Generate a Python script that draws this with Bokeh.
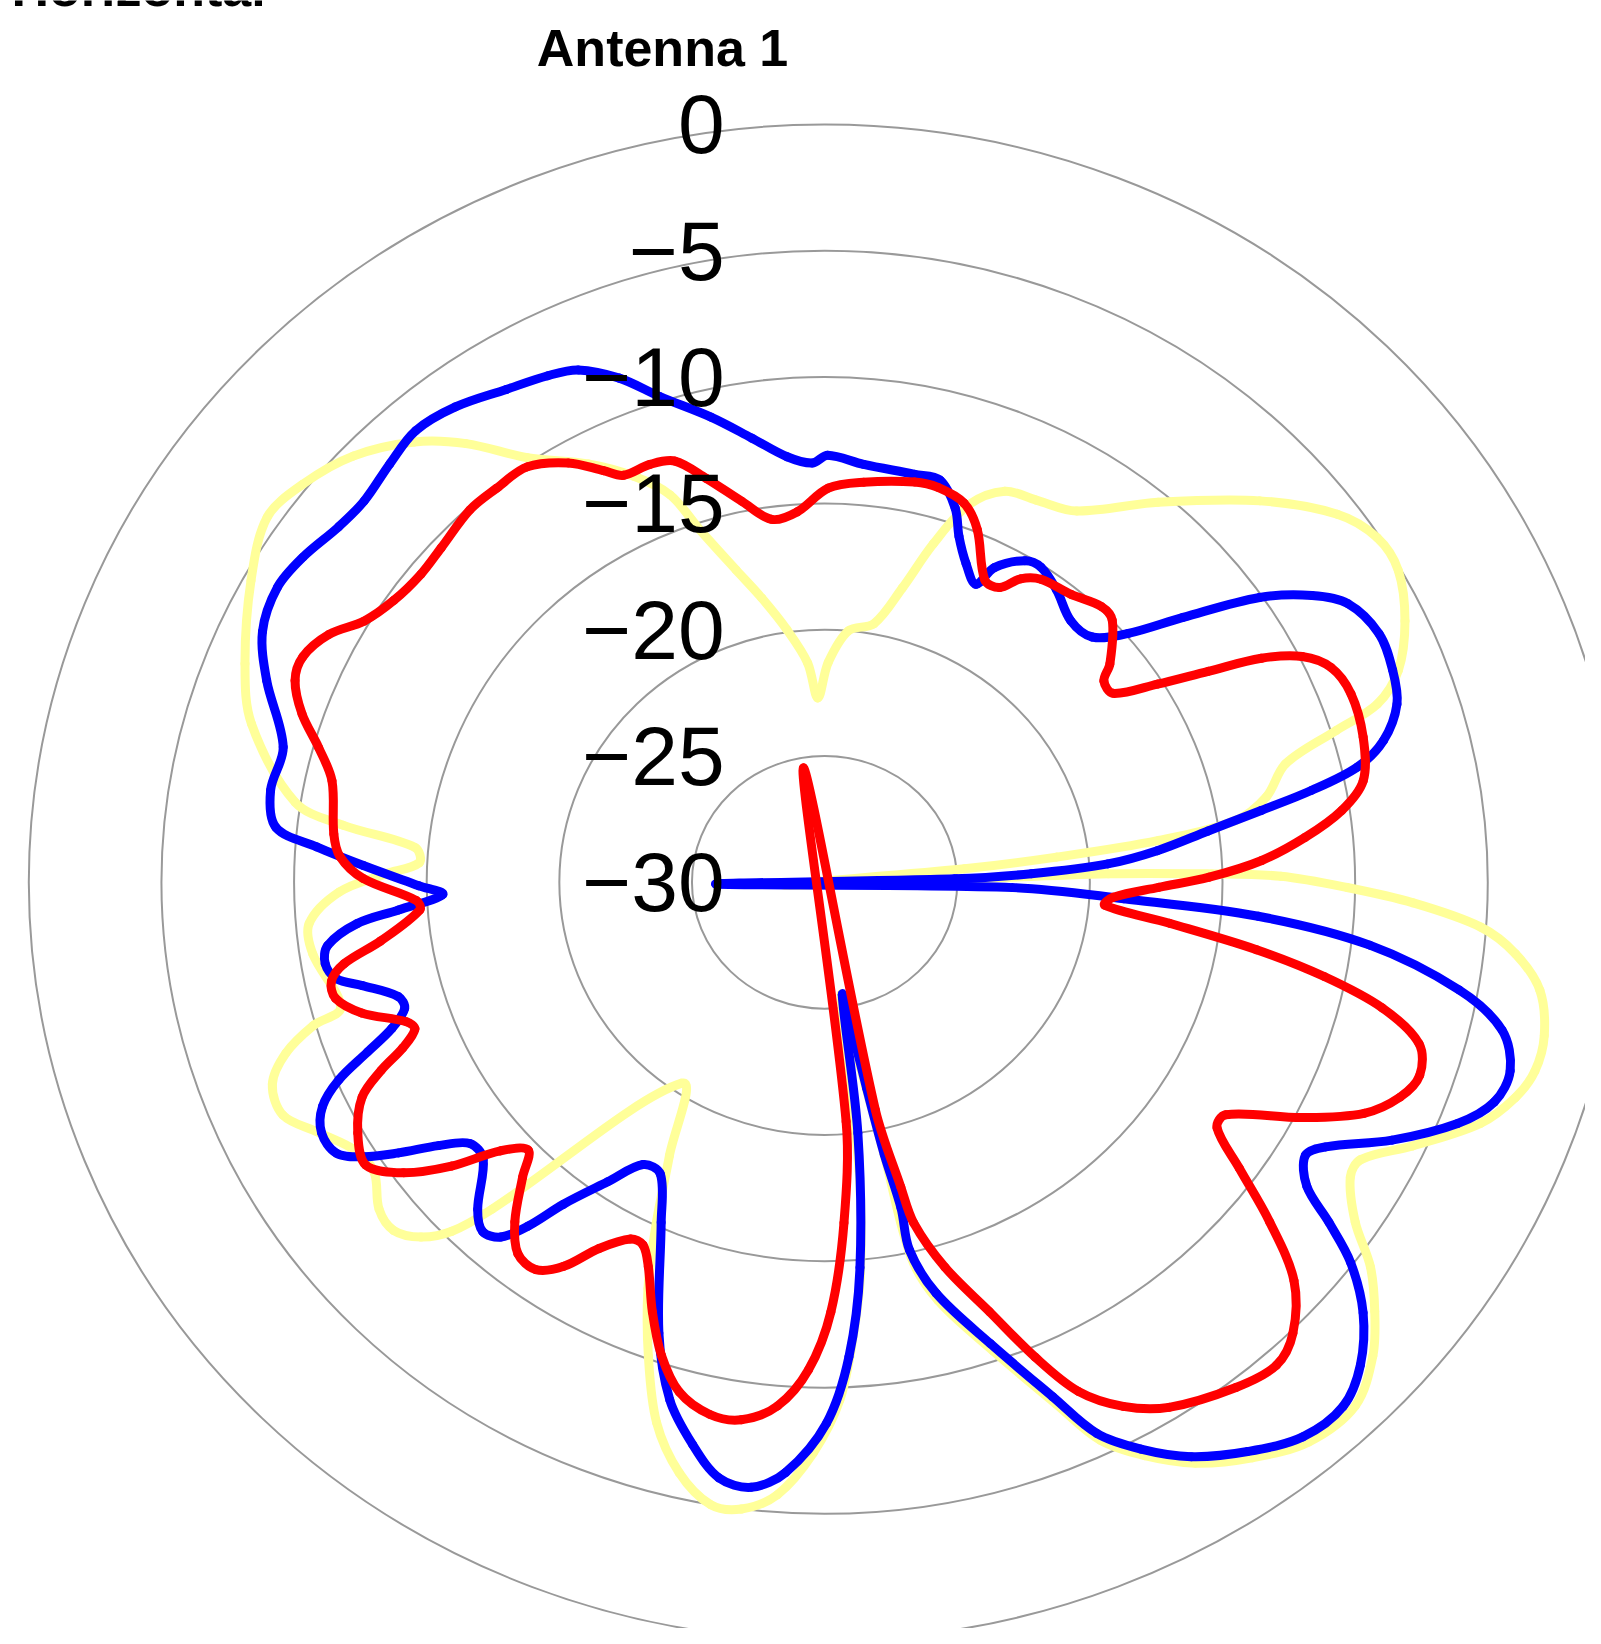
import math
from bokeh.plotting import figure
from bokeh.models import Range1d, Label
from bokeh.core.properties import value
from bokeh.embed import file_html
from bokeh.resources import INLINE

# ---------------- data ----------------
ring_levels = [0, -5, -10, -15, -20, -25]
tick_values = [0, -5, -10, -15, -20, -25, -30]
tick_labels = ["0", "\u22125", "\u221210", "\u221215", "\u221220", "\u221225", "\u221230"]
r_min, r_max = -30.0, 0.0

blue_angles = [0.4, 5.1, 11.9, 15.3, 18.4, 20.3, 22.9, 25.8, 27.2, 30.7, 33.2, 37.1, 41.9, 46.1,
               49.3, 52.2, 55.5, 58.3, 60.8, 64.8, 68.6, 71.9, 75.1, 77.2, 78.8, 80.2, 82.0, 84.3,
               86.1, 87.5, 88.4, 89.0, 91.7, 93.3, 94.7, 96.9, 100.1, 102.9, 106.1, 109.0, 111.8,
               115.5, 119.0, 120.8, 123.5, 125.3, 127.2, 130.0, 133.4, 136.7, 140.6, 144.7, 148.7,
               152.0, 154.8, 157.1, 161.1, 165.5, 167.6, 167.4, 168.2, 169.0, 169.9, 171.5, 172.8,
               175.0, 177.2, 179.8, 183.6, 186.6, 189.6, 192.6, 195.9, 199.3, 204.6, 208.2, 211.5,
               214.6, 217.7, 219.4, 221.0, 223.0, 225.3, 229.6, 232.3, 234.4, 236.3, 238.0, 239.8,
               242.4, 244.9, 246.9, 248.7, 250.5, 252.5, 254.3, 256.8, 258.3, 260.3, 262.4, 264.7,
               266.1, 268.1, 269.5, 272.2, 274.2, 276.0, 279.9, 284.7, 290.8, 295.1, 299.5, 303.2,
               307.5, 311.0, 315.3, 319.2, 323.5, 328.4, 332.5, 335.4, 338.8, 342.1, 346.9, 351.1,
               355.2, 358.4, 360.4]
blue_values = [-13.1, -13.4, -13.5, -13.5, -14.4, -15.4, -16.3, -16.9, -16.0, -15.2, -15.1, -15.5,
               -16.1, -16.0, -14.9, -12.9, -10.1, -8.4, -7.4, -6.9, -7.0, -7.3, -8.2, -9.4, -11.3,
               -13.3, -15.4, -17.4, -19.3, -22.2, -25.1, -34.1, -22.9, -18.7, -13.6, -9.3, -5.7,
               -3.8, -3.1, -3.3, -4.3, -6.3, -8.4, -8.9, -8.2, -6.7, -5.1, -3.5, -2.2, -1.5, -1.6,
               -2.4, -3.4, -4.6, -5.9, -7.9, -10.7, -13.2, -15.1, -16.8, -19.0, -21.7, -23.9, -25.5,
               -20.0, -14.7, -11.2, -8.6, -6.6, -5.9, -6.1, -7.2, -8.7, -11.1, -15.2, -16.9, -16.9,
               -15.6, -13.9, -12.4, -11.4, -11.1, -11.6, -13.1, -13.1, -12.1, -10.7, -9.5, -8.7,
               -8.6, -9.1, -10.1, -11.5, -12.7, -13.4, -13.3, -12.1, -11.2, -10.9, -11.1, -12.3,
               -13.9, -15.6, -14.7, -12.6, -10.8, -9.2, -8.8, -8.9, -7.5, -6.6, -6.3, -6.5, -6.9,
               -7.0, -6.7, -6.4, -6.6, -7.1, -7.4, -7.7, -8.6, -9.8, -11.1, -12.2, -13.1, -13.4,
               -13.1]

red_angles = [0.5, 5.3, 12.1, 15.3, 19.3, 22.4, 26.8, 29.5, 31.6, 34.2, 39.2, 43.7, 46.3, 51.2,
              52.9, 55.5, 58.0, 60.0, 61.7, 63.6, 66.0, 69.4, 74.2, 78.8, 81.7, 84.4, 87.0, 89.2,
              90.9, 93.1, 94.9, 97.1, 99.3, 101.2, 103.3, 105.9, 108.8, 111.4, 114.2, 117.3, 121.3,
              123.3, 125.9, 128.7, 131.7, 135.3, 138.3, 142.2, 148.0, 151.5, 154.6, 157.1, 159.9,
              163.4, 166.0, 166.6, 168.0, 170.0, 175.1, 176.9, 179.2, 181.8, 184.9, 188.4, 191.6,
              195.2, 198.2, 200.9, 203.6, 205.5, 207.4, 210.4, 212.9, 215.4, 218.2, 221.0, 224.3,
              226.5, 229.0, 231.4, 234.1, 237.1, 240.6, 244.0, 246.0, 247.6, 249.4, 250.7, 253.5,
              256.0, 258.1, 259.9, 262.1, 265.9, 267.3, 270.5, 273.2, 275.9, 282.2, 285.6, 288.7,
              291.8, 294.4, 297.7, 300.8, 304.5, 308.7, 312.5, 317.8, 321.6, 325.7, 329.8, 332.9,
              334.8, 338.3, 341.3, 344.4, 348.3, 352.1, 356.0, 360.5]
red_values = [-14.4, -14.1, -13.8, -13.8, -14.1, -14.9, -16.6, -16.6, -15.9, -15.5, -15.3, -14.9,
              -15.0, -16.2, -16.8, -16.8, -15.2, -13.3, -11.3, -9.9, -9.1, -8.8, -8.9, -9.3, -10.3,
              -11.8, -13.5, -15.5, -17.4, -19.1, -19.4, -16.9, -13.5, -10.8, -8.4, -6.7, -6.3,
              -6.7, -7.7, -9.7, -12.3, -12.3, -10.7, -8.5, -6.3, -4.9, -4.4, -4.7, -5.5, -6.4,
              -7.7, -9.6, -11.9, -14.1, -16.1, -17.6, -20.8, -34.6, -20.5, -16.5, -13.0, -10.7,
              -9.2, -8.5, -8.5, -9.1, -10.3, -11.8, -13.4, -14.1, -14.1, -13.2, -11.9, -11.2,
              -11.3, -12.2, -13.7, -14.6, -13.8, -12.0, -10.4, -9.4, -9.8, -10.6, -11.7, -12.8,
              -13.5, -13.3, -11.8, -11.0, -11.0, -11.6, -13.1, -14.7, -14.6, -12.6, -11.7, -11.4,
              -11.0, -10.2, -9.2, -8.5, -8.4, -8.9, -9.8, -10.3, -10.5, -10.4, -10.1, -10.1,
              -10.1, -10.8, -11.7, -12.2, -12.2, -12.4, -13.4, -14.6, -15.5, -15.3, -14.4]

yellow_angles = [0.9, 5.2, 10.3, 14.1, 17.0, 20.0, 23.7, 27.8, 32.9, 39.9, 47.4, 53.0, 56.8, 60.3,
                 64.7, 68.8, 71.3, 72.7, 74.9, 78.5, 81.0, 82.5, 83.5, 84.2, 85.5, 88.2, 88.7, 89.2,
                 90.6, 92.1, 94.1, 96.2, 99.0, 102.6, 105.6, 108.1, 111.1, 115.2, 118.5, 120.5,
                 123.9, 126.5, 129.3, 132.2, 136.0, 140.5, 144.7, 148.7, 152.0, 154.8, 157.1, 161.1,
                 165.5, 167.6, 168.2, 169.5, 172.0, 173.5, 175.0, 176.5, 178.4, 181.1, 184.2, 187.2,
                 189.9, 193.2, 196.5, 199.5, 202.5, 205.2, 208.4, 214.1, 224.1, 225.5, 227.3, 229.7,
                 232.4, 235.9, 238.9, 242.6, 245.7, 249.0, 251.6, 253.6, 254.8, 261.6, 265.2, 268.8,
                 271.1, 272.9, 275.1, 277.1, 279.0, 286.2, 291.6, 298.9, 304.5, 308.7, 313.5, 318.4,
                 322.1, 326.3, 331.7, 335.9, 339.2, 341.4, 344.9, 348.1, 351.9, 355.8, 358.0, 360.9]
yellow_values = [-21.3, -20.0, -19.6, -18.0, -16.0, -14.1, -13.1, -12.9, -12.5, -10.4, -7.7, -5.8,
                 -5.1, -5.1, -5.8, -6.8, -8.0, -9.8, -12.0, -13.0, -14.3, -17.3, -21.2, -24.7,
                 -31.5, -19.3, -15.4, -12.8, -10.3, -7.8, -5.2, -3.8, -2.7, -2.2, -2.2, -2.6, -3.5,
                 -5.5, -7.0, -7.0, -5.9, -4.4, -3.2, -2.1, -1.2, -1.3, -2.1, -3.1, -4.3, -5.6, -7.6,
                 -10.4, -12.9, -14.8, -18.8, -22.5, -25.5, -18.5, -14.5, -12.1, -9.5, -7.4, -5.7,
                 -5.0, -5.0, -6.0, -7.7, -10.1, -12.6, -15.1, -17.7, -20.4, -12.0, -10.3, -9.3,
                 -8.7, -8.8, -9.5, -9.4, -8.5, -7.6, -7.7, -8.6, -9.9, -11.1, -10.5, -10.5, -11.7,
                 -13.4, -14.7, -14.5, -11.7, -9.8, -7.5, -6.5, -5.3, -4.5, -4.8, -5.5, -6.7, -8.0,
                 -9.8, -11.2, -12.4, -13.6, -15.3, -17.2, -18.5, -19.9, -21.3, -22.7, -21.3]

series = [
    ("yellow", yellow_angles, yellow_values, "#FFFF99"),
    ("blue", blue_angles, blue_values, "#0000FF"),
    ("red", red_angles, red_values, "#FF0000"),
]

# ---------------- layout ----------------
W, H = 1585, 1628
cx, cy = 824.1, 881.8      # pole position on the canvas (px from left / top)
kx, ky = 795.8, 758.1      # px per unit radius (0 dB ring) horizontally / vertically


def radius(v):
    return (v - r_min) / (r_max - r_min)


p = figure(width=W, height=H, output_backend="svg", toolbar_location=None,
           x_range=Range1d(-cx / kx, (W - cx) / kx),
           y_range=Range1d(-(H - cy) / ky, cy / ky),
           x_axis_location=None, y_axis_location=None, min_border=0)
p.grid.visible = False
p.outline_line_color = None
p.background_fill_color = "white"
p.border_fill_color = "white"

# grid rings
rr = [radius(l) for l in ring_levels]
p.ellipse(x=[0] * len(rr), y=[0] * len(rr), width=[2 * r for r in rr], height=[2 * r for r in rr],
          fill_color=None, line_color="#999999", line_width=2)


def smooth_segments(xs, ys):
    """Closed chord-scaled Catmull-Rom curve through the points -> cubic Bezier segments."""
    pts = list(zip(xs, ys))[:-1]          # last point repeats the first
    n = len(pts)
    P = [(x * kx, y * ky) for x, y in pts]
    d = [math.hypot(P[(i + 1) % n][0] - P[i][0], P[(i + 1) % n][1] - P[i][1]) for i in range(n)]
    m = []
    for i in range(n):
        a, b = P[i - 1], P[(i + 1) % n]
        s = d[i - 1] + d[i]
        if s == 0:
            m.append((0.0, 0.0))
        else:
            m.append(((b[0] - a[0]) / s, (b[1] - a[1]) / s))
    out = {k: [] for k in ("x0", "y0", "x1", "y1", "cx0", "cy0", "cx1", "cy1")}
    for i in range(n):
        j = (i + 1) % n
        h = d[i] / 3.0
        c0 = (P[i][0] + m[i][0] * h, P[i][1] + m[i][1] * h)
        c1 = (P[j][0] - m[j][0] * h, P[j][1] - m[j][1] * h)
        out["x0"].append(P[i][0] / kx); out["y0"].append(P[i][1] / ky)
        out["x1"].append(P[j][0] / kx); out["y1"].append(P[j][1] / ky)
        out["cx0"].append(c0[0] / kx); out["cy0"].append(c0[1] / ky)
        out["cx1"].append(c1[0] / kx); out["cy1"].append(c1[1] / ky)
    return out


# traces
for name, ang, val, col in series:
    xs = [radius(v) * math.sin(math.radians(a)) for a, v in zip(ang, val)]
    ys = [radius(v) * math.cos(math.radians(a)) for a, v in zip(ang, val)]
    seg = smooth_segments(xs, ys)
    p.bezier(x0=seg["x0"], y0=seg["y0"], x1=seg["x1"], y1=seg["y1"],
             cx0=seg["cx0"], cy0=seg["cy0"], cx1=seg["cx1"], cy1=seg["cy1"],
             line_color=col, line_width=9, line_cap="round")

# radial tick labels
p.text(x=[-100.0 / kx] * len(tick_values), y=[radius(v) for v in tick_values], text=tick_labels,
       text_align="right", text_baseline="middle", text_font=value("Liberation Sans"),
       text_font_size="84px", text_color="black")

# titles
p.add_layout(Label(x=662, y=H - 47, x_units="screen", y_units="screen", text="Antenna 1",
                   text_font="Liberation Sans", text_font_style="bold", text_font_size="52px",
                   text_align="center", text_baseline="alphabetic", text_color="black"))
p.add_layout(Label(x=11, y=H + 13, x_units="screen", y_units="screen", text="Horizontal",
                   text_font="Liberation Sans", text_font_style="bold", text_font_size="52px",
                   text_align="left", text_baseline="alphabetic", text_color="black"))

open("out.html", "w").write(file_html(p, INLINE))
